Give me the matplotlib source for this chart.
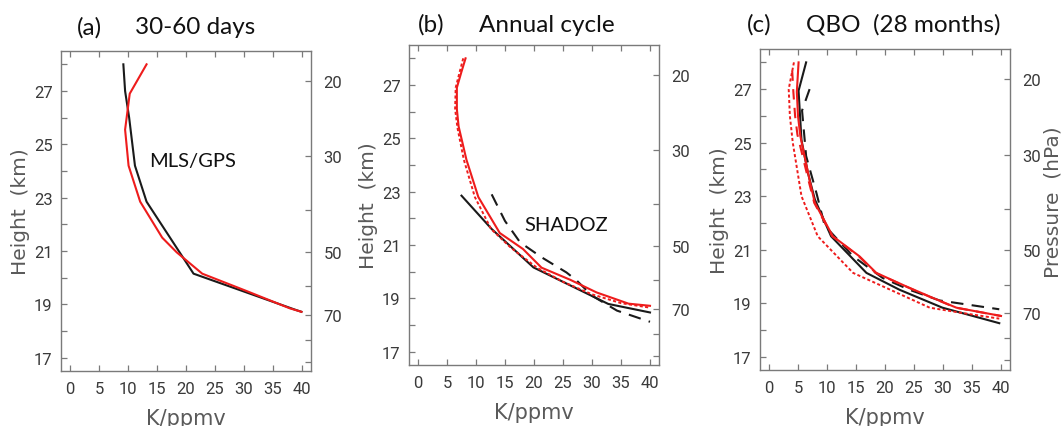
import numpy as np
import matplotlib
matplotlib.use("Agg")
import matplotlib.pyplot as plt
from matplotlib import font_manager

# ---------------- data ----------------
# Panel (a) 30-60 days
a_black_x = [9.2, 9.5, 10.2, 11.2, 13.2, 21.3, 38.8, 39.9]
a_black_z = [28.0, 27.0, 26.0, 24.2, 22.85, 20.15, 18.8, 18.72]
a_red_x = [13.2, 10.3, 9.5, 10.1, 12.1, 15.9, 18.4, 22.8, 30.2, 37.9, 39.9]
a_red_z = [28.0, 26.9, 25.55, 24.2, 22.85, 21.5, 20.95, 20.15, 19.52, 18.85, 18.72]

# Panel (b) annual cycle
b_red_x = [8.2, 7.5, 6.7, 6.7, 7.0, 8.35, 10.4, 14.1, 18.1, 21.3, 26.2, 30.8, 36.3, 40.0]
b_red_z = [28.0, 27.5, 26.9, 26.1, 25.45, 24.2, 22.8, 21.45, 20.85, 20.15, 19.7, 19.22, 18.8, 18.72]
b_reddot_x = [7.8, 7.2, 6.5, 6.4, 6.8, 7.9, 9.8, 12.6, 16.0, 20.5, 25.0, 30.0, 35.0, 40.0]
b_reddot_z = [28.0, 27.5, 26.9, 26.1, 25.4, 24.2, 22.8, 21.6, 20.9, 20.15, 19.62, 19.15, 18.82, 18.65]
b_black_x = [7.5, 12.7, 19.9, 32.8, 40.0]
b_black_z = [22.85, 21.6, 20.16, 18.79, 18.47]
b_blackdash_x = [12.7, 15.0, 17.6, 21.3, 25.6, 27.4, 30.0, 34.3, 40.0]
b_blackdash_z = [22.9, 21.9, 21.1, 20.54, 19.97, 19.66, 19.1, 18.54, 18.12]

# Panel (c) QBO
c_red_x = [5.1, 4.8, 5.0, 5.4, 7.0, 7.9, 11.0, 15.6, 18.5, 23.6, 28.2, 32.3, 40.0]
c_red_z = [28.0, 26.9, 26.0, 25.25, 23.6, 22.75, 21.5, 20.75, 20.13, 19.63, 19.2, 18.83, 18.52]
c_reddash_x = [4.0, 4.2, 4.5, 4.9, 6.8, 7.8, 10.9, 15.5, 18.4, 23.5, 28.1, 32.2, 40.0]
c_reddash_z = [27.7, 26.9, 26.0, 25.3, 23.6, 22.75, 21.5, 20.75, 20.13, 19.63, 19.2, 18.83, 18.52]
c_reddot_x = [4.3, 3.4, 3.6, 4.1, 5.6, 8.4, 14.5, 20.2, 27.7, 32.8, 39.7]
c_reddot_z = [28.0, 27.0, 26.0, 25.0, 23.0, 21.5, 20.13, 19.57, 18.83, 18.65, 18.42]
c_black_x = [6.4, 5.1, 5.6, 6.7, 7.9, 10.7, 16.8, 22.5, 29.9, 39.7]
c_black_z = [28.0, 26.94, 25.1, 23.88, 22.88, 21.5, 20.13, 19.5, 18.83, 18.25]
c_blackdash_x = [7.0, 5.7, 6.4, 8.2, 9.6, 14.5, 19.6, 24.2, 29.4, 39.7]
c_blackdash_z = [27.0, 26.2, 24.5, 23.1, 21.9, 20.75, 19.94, 19.5, 19.1, 18.77]

x_ticks = [0, 5, 10, 15, 20, 25, 30, 35, 40]
height_labels = [17, 19, 21, 23, 25, 27]
pressure_ticks = [20, 30, 40, 50, 60, 70, 80, 90]
pressure_labels = [20, 30, 50, 70]

panel_letters = ["(a)", "(b)", "(c)"]
panel_titles = ["30-60 days", "Annual cycle", "QBO  (28 months)"]

# ---------------- style ----------------
W, H = 1062, 427
fig = plt.figure(figsize=(W / 100, H / 100), dpi=100)

names = {f.name for f in font_manager.fontManager.ttflist}
narrow = "Roboto" if "Roboto" in names else "DejaVu Sans"
title_font = "Lato" if "Lato" in names else "DejaVu Sans"

SPINE = "#7a7a7a"
TXT = "#3a3a3a"
LAB = "#5a5a5a"
RED = "#ee1c1c"
BLK = "#1a1a1a"

def px_axes(left, top, right, bottom):
    return fig.add_axes([left / W, 1 - bottom / H, (right - left) / W, (bottom - top) / H])

boxes = [(61, 52, 311, 372), (409, 46, 659, 366), (760, 50, 1010, 371)]

def height_of(p):
    return 7.0 * np.log(1000.0 / np.asarray(p, dtype=float))

axes = []
for i, bx in enumerate(boxes):
    ax = px_axes(*bx)
    ax.set_xlim(-1.55, 41.55)
    ax.set_ylim(16.5, 28.5)
    for s in ax.spines.values():
        s.set_color(SPINE)
        s.set_linewidth(1.0)
    ax.set_xticks(x_ticks)
    ax.set_xticklabels([str(v) for v in x_ticks])
    ax.set_yticks(list(range(17, 29)))
    ax.set_yticklabels([str(v) if v in height_labels else "" for v in range(17, 29)])
    ax.tick_params(axis="both", direction="in", length=4, width=0.9, color=SPINE,
                   labelsize=12, labelcolor=TXT, pad=6)
    ax.tick_params(axis="x", top=True, pad=7)
    for lab in ax.get_xticklabels() + ax.get_yticklabels():
        lab.set_family(narrow)
    ax.set_xlabel("K/ppmv", fontsize=15, color=LAB, family="DejaVu Sans")
    ax.xaxis.set_label_coords(0.5, -0.115)
    ax.set_ylabel("Height  (km)", fontsize=14.5, color=LAB, family="DejaVu Sans")
    ax.yaxis.set_label_coords(-0.125, 0.5)

    ax2 = ax.twinx()
    ax2.set_ylim(16.5, 28.5)
    ax2.set_yticks(height_of(pressure_ticks))
    ax2.set_yticklabels([str(p) if p in pressure_labels else "" for p in pressure_ticks])
    ax2.tick_params(axis="y", direction="in", length=4, width=0.9, color=SPINE,
                    labelsize=12, labelcolor=TXT, pad=9)
    for lab in ax2.get_yticklabels():
        lab.set_family(narrow)
    for s in ax2.spines.values():
        s.set_visible(False)
    axes.append(ax)

    # titles
    cy = 1 - [27.5, 25, 25][i] / H
    fig.text([76.7, 418, 747][i] / W, cy, panel_letters[i], fontsize=17.5,
             family=title_font, color="#111111", ha="left", va="center")
    fig.text([135, 479, 806][i] / W, cy, panel_titles[i], fontsize=17.5,
             family=title_font, color="#111111", ha="left", va="center")

fig.text(1053 / W, 1 - 201.7 / H, "Pressure  (hPa)", rotation=90, fontsize=14.5,
         color=LAB, ha="center", va="center")

lw = 1.5
ax = axes[0]
ax.plot(a_black_x, a_black_z, color=BLK, lw=lw)
ax.plot(a_red_x, a_red_z, color=RED, lw=lw)
ax.text(21.1, 24.4, "MLS/GPS", fontsize=14.5, family=title_font, color="#111111",
        ha="center", va="center")

ax = axes[1]
ax.plot(b_black_x, b_black_z, color=BLK, lw=lw)
ax.plot(b_blackdash_x, b_blackdash_z, color=BLK, lw=lw, dashes=(6, 4))
ax.plot(b_reddot_x, b_reddot_z, color=RED, lw=1.4, dashes=(1.6, 1.2))
ax.plot(b_red_x, b_red_z, color=RED, lw=lw)
ax.text(25.6, 21.78, "SHADOZ", fontsize=14.5, family=title_font, color="#111111",
        ha="center", va="center")

ax = axes[2]
ax.plot(c_black_x, c_black_z, color=BLK, lw=lw)
ax.plot(c_blackdash_x, c_blackdash_z, color=BLK, lw=lw, dashes=(6, 4))
ax.plot(c_reddot_x, c_reddot_z, color=RED, lw=1.4, dashes=(1.6, 1.2))
ax.plot(c_reddash_x, c_reddash_z, color=RED, lw=lw, dashes=(5, 4))
ax.plot(c_red_x, c_red_z, color=RED, lw=lw)

fig.savefig("out.png", dpi=100, facecolor="white")
